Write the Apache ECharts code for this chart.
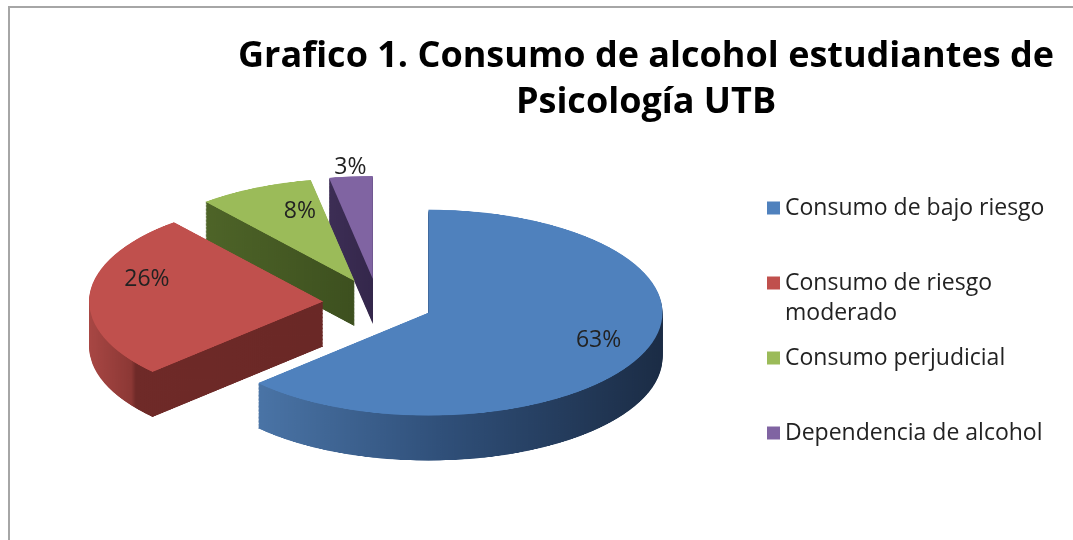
<!doctype html>
<html>
<head>
<meta charset="UTF-8">
<title>Consumo de alcohol</title>
<style>
  html, body { margin: 0; padding: 0; background: #fff; overflow: hidden; }
  #wrap { position: relative; width: 1073px; height: 540px; overflow: hidden; }
  #pieChart { position: absolute; left: 0; top: 0; width: 1073px; height: 1240px; transform-origin: 0 0; }
  #mainChart { position: absolute; left: 0; top: 0; width: 1073px; height: 540px; }
</style>
</head>
<body>
<div id="wrap">
  <div id="pieChart"></div>
  <div id="mainChart"></div>
</div>
<script src="https://cdn.jsdelivr.net/npm/echarts@6/dist/echarts.min.js"></script>
<script>
// datos
var categories = ['Consumo de bajo riesgo', 'Consumo de riesgo moderado', 'Consumo perjudicial', 'Dependencia de alcohol'];
var percents = [63, 26, 8, 3];

// colores (cara superior y lateral)
var topColors = ['#4f81bd', '#c0504d', '#9bbb59', '#8064a2'];
var sideColors = [
  [[0, '#4a74a6'], [0.45, '#30507a'], [1, '#1b2c45']],
  [[0, '#a84744'], [0.18, '#8c3835'], [0.2, '#6f2a28'], [1, '#6a2826']],
  [[0, '#4e6428'], [1, '#3d501f']],
  [[0, '#3d2e55'], [1, '#34274b']]
];

// geometria del "3D": la torta se aplasta en vertical con K
var K = 0.44, CX = 378, CY = 303, R = 234, OFF = 55, DEPTH = 45, LAYERS = 45;
var FONT = 'Open Sans';

document.getElementById('pieChart').style.transform = 'scaleY(' + K + ')';

var pieChart = echarts.init(document.getElementById('pieChart'));

function pieLayer(dy, colorFn) {
  return {
    type: 'pie',
    silent: true,
    animation: false,
    center: [CX, CY / K + dy],
    radius: R,
    startAngle: 90,
    clockwise: true,
    selectedMode: 'multiple',
    selectedOffset: OFF,
    label: { show: false },
    labelLine: { show: false },
    emphasis: { disabled: true },
    data: categories.map(function (name, i) {
      return { name: name, value: percents[i], selected: true, itemStyle: { color: colorFn(i), borderWidth: 0 } };
    })
  };
}

var layers = [];
for (var l = LAYERS; l >= 1; l--) {
  layers.push(pieLayer(l * DEPTH / K / LAYERS, function (i) {
    return new echarts.graphic.LinearGradient(0, 0, 1, 0, sideColors[i].map(function (s) {
      return { offset: s[0], color: s[1] };
    }));
  }));
}
layers.push(pieLayer(0, function (i) { return topColors[i]; }));

pieChart.setOption({ series: layers });

// etiquetas de porcentaje: se toman los angulos que calcula la torta
var labelNudge = [[9, -3], [-1, -17], [20, 0], [-6, -35]];
var pieData = pieChart.getModel().getSeriesByIndex(LAYERS).getData();
var labelTexts = percents.map(function (v, i) {
  var lay = pieData.getItemLayout(i);
  var mid = (lay.startAngle + lay.endAngle) / 2;
  var rho = OFF + lay.r * 0.75;
  return {
    type: 'text',
    silent: true,
    style: {
      text: v + '%',
      x: lay.cx + rho * Math.cos(mid) + labelNudge[i][0],
      y: (lay.cy + rho * Math.sin(mid)) * K + labelNudge[i][1],
      align: 'center', verticalAlign: 'middle',
      textAlign: 'center', textVerticalAlign: 'middle',
      fill: '#222',
      fontFamily: FONT, fontSize: 23
    }
  };
});

// titulo, leyenda y marco
var mainChart = echarts.init(document.getElementById('mainChart'));
var legendTops = [193, 238, 343, 418];

mainChart.setOption({
  title: {
    text: 'Grafico 1. Consumo de alcohol estudiantes de\nPsicología UTB',
    left: 646,
    top: 34,
    padding: 0,
    textAlign: 'center',
    textStyle: { fontFamily: FONT, fontWeight: 'bold', fontSize: 36, lineHeight: 46, color: '#000' }
  },
  legend: categories.map(function (name, i) {
    return {
      orient: 'vertical',
      left: 767,
      top: legendTops[i],
      icon: 'rect',
      itemWidth: 13,
      itemHeight: 13,
      itemGap: 0,
      padding: 0,
      selectedMode: false,
      data: [{ name: name, itemStyle: { color: topColors[i], opacity: 1 } }],
      formatter: function (n) {
        return n.indexOf(' moderado') > 0 ? '\n' + n.replace(' moderado', '\nmoderado') : n;
      },
      textStyle: { fontFamily: FONT, fontSize: 23, color: '#222', lineHeight: 30 }
    };
  }),
  graphic: [{
    type: 'polyline',
    silent: true,
    shape: { points: [[9, 540], [9, 7], [1073, 7]] },
    style: { stroke: '#a6a6a6', lineWidth: 2, fill: null }
  }].concat(labelTexts),
  series: [{
    type: 'pie',
    silent: true,
    animation: false,
    center: [CX, CY],
    radius: 1,
    label: { show: false },
    labelLine: { show: false },
    itemStyle: { color: 'rgba(0,0,0,0)' },
    data: categories.map(function (name, i) {
      return { name: name, value: percents[i] };
    })
  }]
});
</script>
</body>
</html>
